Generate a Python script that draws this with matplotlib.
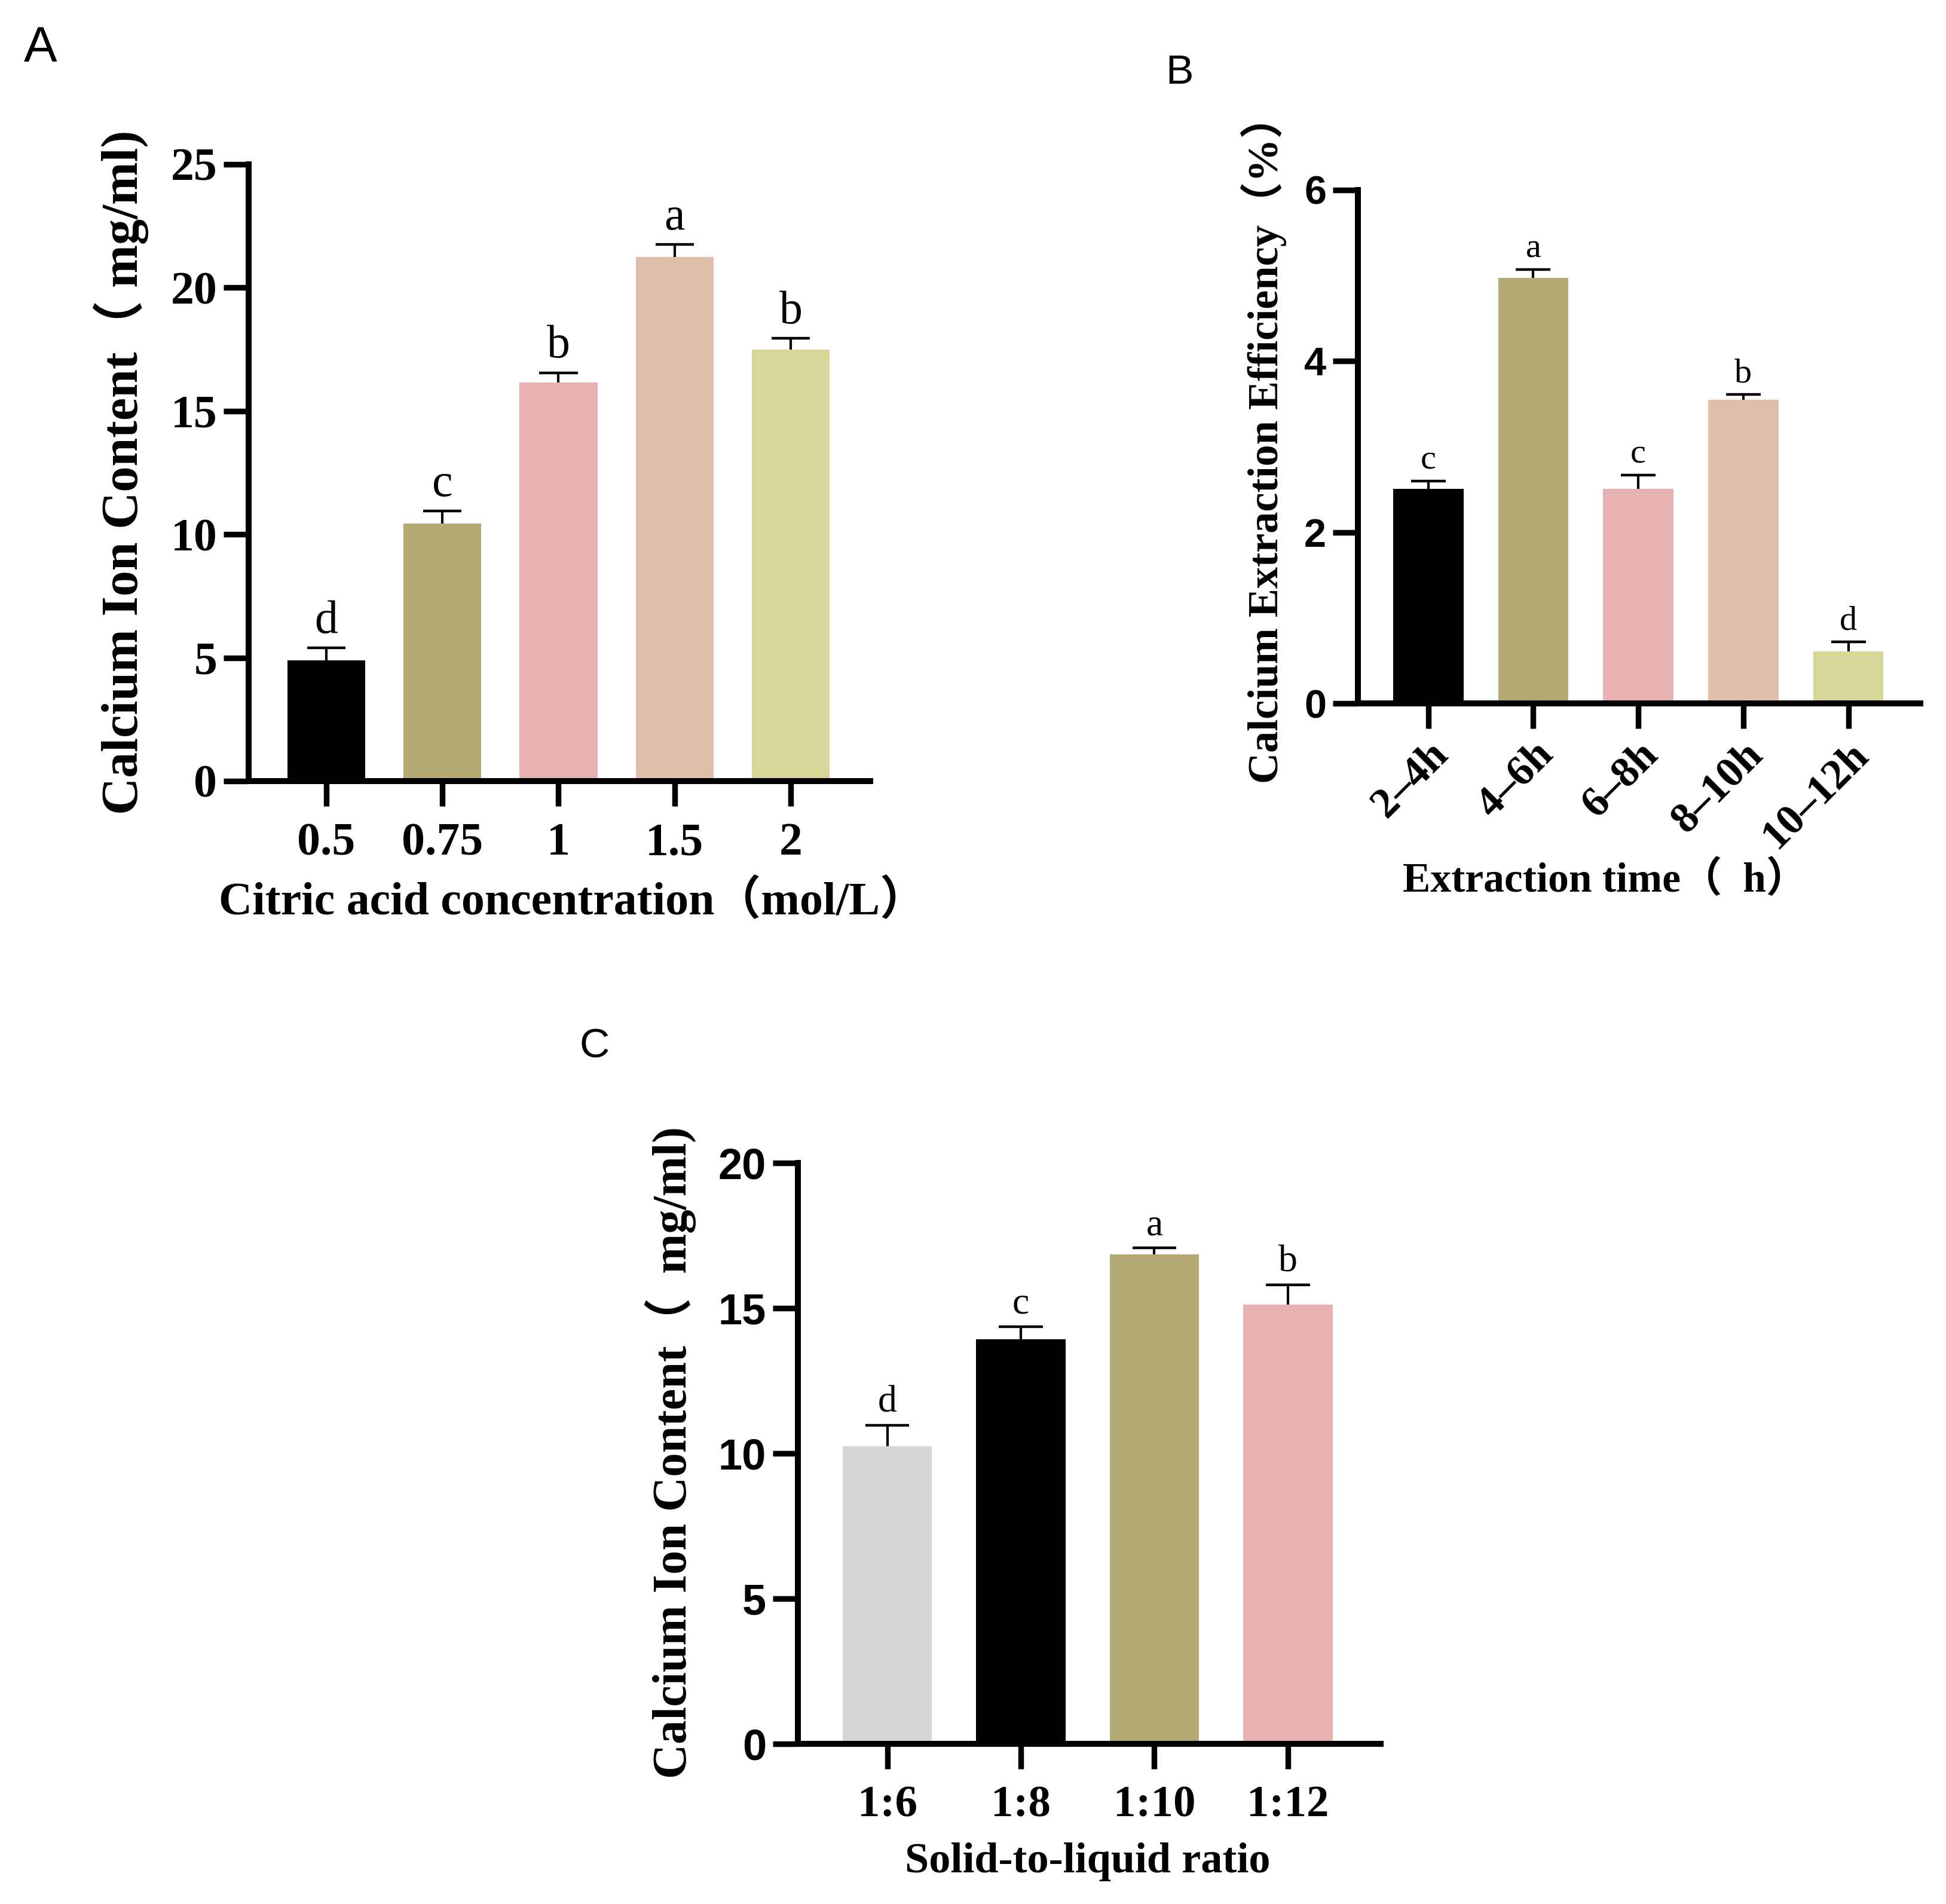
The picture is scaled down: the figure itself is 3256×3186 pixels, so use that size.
import matplotlib
matplotlib.use("Agg")
import matplotlib.pyplot as plt

# ── Data ──────────────────────────────────────────────────────
a_labels = ["0.5", "0.75", "1", "1.5", "2"]
a_values = [4.9, 10.45, 16.15, 21.25, 17.5]
a_errors = [0.5, 0.5, 0.4, 0.5, 0.45]
a_letters = ["d", "c", "b", "a", "b"]

b_labels = ["2–4h", "4–6h", "6–8h", "8–10h", "10–12h"]
b_values = [2.51, 4.97, 2.51, 3.55, 0.61]
b_errors = [0.09, 0.10, 0.16, 0.06, 0.11]
b_letters = ["c", "a", "c", "b", "d"]

c_labels = ["1:6", "1:8", "1:10", "1:12"]
c_values = [10.25, 13.92, 16.85, 15.12]
c_errors = [0.72, 0.45, 0.22, 0.68]
c_letters = ["d", "c", "a", "b"]

# ── Style ─────────────────────────────────────────────────────
BLACK = "#000000"
KHAKI = "#B5AA73"
PINK = "#E5B2B1"
PEACH = "#E2BFAC"
LIME = "#D7D79A"
GREY = "#D6D6D6"

SERIF = ["Liberation Serif", "Noto Sans CJK SC"]
SANS = ["Liberation Sans", "DejaVu Sans"]

W, H = 3256, 3186
DPI = 200
fig = plt.figure(figsize=(W / DPI, H / DPI), dpi=DPI)


def px_axes(left, top, right, bottom):
    return fig.add_axes([left / W, 1 - bottom / H, (right - left) / W, (bottom - top) / H])


def bar_panel(ax, labels, values, errors, letters, colors, ylim, yticks,
              xlim, ytick_font, ytick_size, xtick_size, letter_size,
              rotate=False):
    x = list(range(len(labels)))
    ax.bar(x, values, width=0.67, color=colors, linewidth=0, zorder=2)
    # upper-only error bars: stem + cap
    tops = [v + e for v, e in zip(values, errors)]
    ax.vlines(x, values, tops, color="black", linewidth=1.5, zorder=3)
    ax.hlines(tops, [xi - 0.165 for xi in x], [xi + 0.165 for xi in x],
              color="black", linewidth=1.6, zorder=3)
    for xi, t, letter in zip(x, tops, letters):
        ax.annotate(letter, (xi, t), xytext=(0, 3), textcoords="offset points",
                    ha="center", va="bottom", fontsize=letter_size,
                    family=SERIF)
    ax.set_xlim(*xlim)
    ax.set_ylim(*ylim)
    ax.set_yticks(yticks)
    ax.set_xticks(x)
    for s in ["top", "right"]:
        ax.spines[s].set_visible(False)
    for s in ["left", "bottom"]:
        ax.spines[s].set_linewidth(3.6)
        ax.spines[s].set_capstyle("projecting")
    ax.tick_params(axis="both", length=15, width=3.4, direction="out")
    ax.tick_params(axis="y", pad=4)
    ax.tick_params(axis="x", pad=10)
    ax.set_yticklabels([str(t) for t in yticks], fontsize=ytick_size,
                       family=ytick_font, fontweight="bold")
    if rotate:
        ax.set_xticklabels(labels, fontsize=xtick_size, family=SERIF,
                           fontweight="bold", rotation=45, ha="right",
                           rotation_mode="anchor")
        ax.tick_params(axis="x", pad=4)
    else:
        ax.set_xticklabels(labels, fontsize=xtick_size, family=SERIF,
                           fontweight="bold")


# ── Panel A ───────────────────────────────────────────────────
ax_a = px_axes(416, 275, 1456, 1307)
bar_panel(ax_a, a_labels, a_values, a_errors, a_letters,
          [BLACK, KHAKI, PINK, PEACH, LIME], (0, 25), [0, 5, 10, 15, 20, 25],
          (-0.668, 4.684), SERIF, 28, 28, 28)
fig.text(202 / W, 1 - 790 / H, "Calcium Ion Content（ mg/ml)", rotation=90,
         ha="center", va="center", fontsize=31, fontweight="bold", family=SERIF)
fig.text(958 / W, 1 - 1510 / H, "Citric acid concentration（mol/L）",
         ha="center", va="center", fontsize=28, fontweight="bold", family=SERIF)
fig.text(40 / W, 1 - 103 / H, "A", ha="left", va="baseline", fontsize=30,
         family=SANS)

# ── Panel B ───────────────────────────────────────────────────
ax_b = px_axes(2272, 318, 3213, 1177)
bar_panel(ax_b, b_labels, b_values, b_errors, b_letters,
          [BLACK, KHAKI, PINK, PEACH, LIME], (0, 6), [0, 2, 4, 6],
          (-0.67, 4.685), SANS, 24, 26, 21, rotate=True)
fig.text(2114 / W, 1 - 735 / H, "Calcium Extraction Efficiency（%）",
         rotation=90, ha="center", va="center", fontsize=26,
         fontweight="bold", family=SERIF)
fig.text(2686 / W, 1 - 1474 / H, "Extraction time（  h）",
         ha="center", va="center", fontsize=25, fontweight="bold", family=SERIF)
fig.text(1950 / W, 1 - 140 / H, "B", ha="left", va="baseline", fontsize=25,
         family=SANS)

# ── Panel C ───────────────────────────────────────────────────
ax_c = px_axes(1335, 1946, 2310, 2918)
bar_panel(ax_c, c_labels, c_values, c_errors, c_letters,
          [GREY, BLACK, KHAKI, PINK], (0, 20), [0, 5, 10, 15, 20],
          (-0.669, 3.694), SANS, 26, 27, 23)
fig.text(1122 / W, 1 - 2430 / H, "Calcium Ion Content（  mg/ml)", rotation=90,
         ha="center", va="center", fontsize=29, fontweight="bold", family=SERIF)
fig.text(1820 / W, 1 - 3115 / H, "Solid-to-liquid ratio",
         ha="center", va="center", fontsize=26, fontweight="bold", family=SERIF)
fig.text(970 / W, 1 - 1770 / H, "C", ha="left", va="baseline", fontsize=25,
         family=SANS)

fig.savefig("out.png", dpi=DPI, facecolor="white")
